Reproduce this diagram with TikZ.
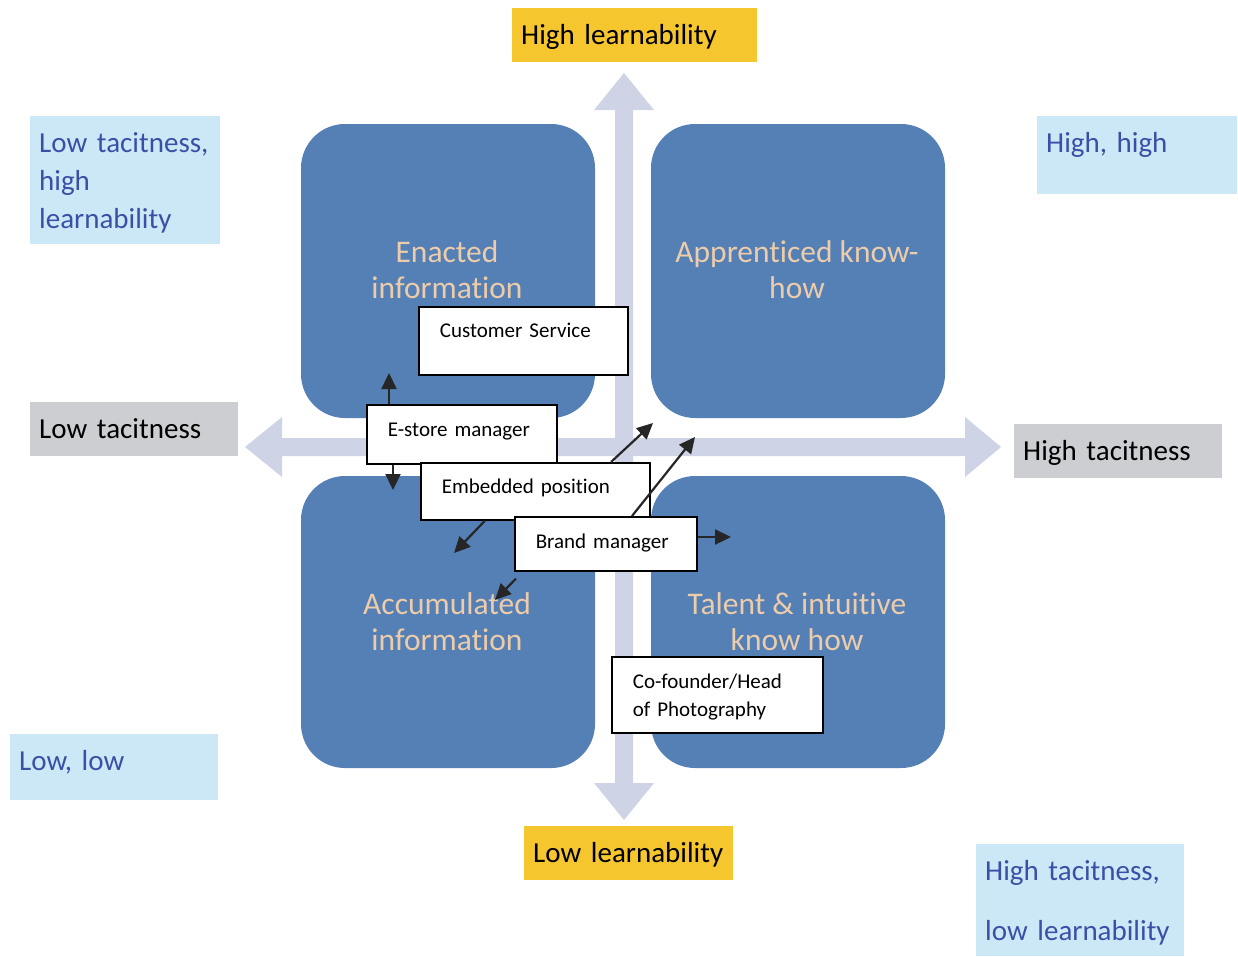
\documentclass[tikz,border=0pt]{standalone}
\usepackage{fontspec}
\setmainfont{Carlito}[Ligatures=NoCommon, Contextuals=NoAlternate]
\usetikzlibrary{arrows.meta}

\definecolor{quadblue}{RGB}{85,128,182}
\definecolor{axiscol}{RGB}{206,212,230}
\definecolor{peach}{RGB}{236,204,170}
\definecolor{tagyellow}{RGB}{245,198,46}
\definecolor{taggrey}{RGB}{204,206,209}
\definecolor{tagblue}{RGB}{204,232,247}
\definecolor{tagtext}{RGB}{58,80,166}

\begin{document}
\begin{tikzpicture}[x=1pt,y=-1pt,
  quad/.style={fill=quadblue, rounded corners=44pt},
  qtext/.style={text=peach, font=\fontsize{31.5}{36}\selectfont, align=center},
  tag/.style={anchor=north west, inner xsep=9pt, inner ysep=0pt, align=left,
    text width=190pt, font=\fontsize{29}{38}\selectfont},
  ytag/.style={tag, fill=tagyellow, text=black},
  gtag/.style={tag, fill=taggrey, text=black},
  btag/.style={tag, fill=tagblue, text=tagtext},
  role/.style={draw=black, line width=1.6pt, fill=white, anchor=north west,
    inner xsep=21pt, inner ysep=0pt, align=left, font=\fontsize{21}{28}\selectfont},
  ptr/.style={-{Triangle[length=16pt,width=15pt]}, line width=2.2pt, black!85}
]
\useasboundingbox (0,0) rectangle (1238,956);

% four quadrants
\fill[quad] (301,124) rectangle (595,418);
\fill[quad] (651,124) rectangle (945,418);
\fill[quad] (301,476) rectangle (595,768);
\fill[quad] (651,476) rectangle (945,768);

% axes
\fill[axiscol] (615,110) -- (594,110) -- (624,73) -- (654,110) -- (633,110)
  -- (633,783) -- (654,783) -- (624,820) -- (594,783) -- (615,783) -- cycle;
\fill[axiscol] (282,438) -- (282,417) -- (245,447) -- (282,477) -- (282,456)
  -- (965,456) -- (965,477) -- (1001,447) -- (965,417) -- (965,438) -- cycle;

% quadrant titles
\node[qtext] (q1) at (447,270) {Enacted\\information};
\node[qtext] (q2) at (797,270) {Apprenticed know-\\how};
\node[qtext] (q3) at (447,622) {Accumulated\\information};
\node[qtext] (q4) at (797,622) {Talent \& intuitive\\know how};

% axis labels
\node[ytag, text width=227pt, text height=36pt, text depth=18pt] (hl) at (512,8) {High learnability};
\node[ytag, text width=191pt, text height=36pt, text depth=18pt] (ll) at (524,826) {Low learnability};
\node[gtag, text width=190pt, text height=36pt, text depth=18pt] (lt) at (30,402) {Low tacitness};
\node[gtag, text width=190pt, text height=36pt, text depth=18pt] (ht) at (1014,424) {High tacitness};

% corner labels
\node[btag, text width=172pt, text height=36pt, text depth=92pt] (c1) at (30,116) {Low tacitness,\\high\\learnability};
\node[btag, text width=182pt, text height=36pt, text depth=42pt] (c2) at (1037,116) {High, high};
\node[btag, text width=190pt, text height=36pt, text depth=30pt] (c3) at (10,734) {Low, low};
\node[btag, text width=190pt, text height=36pt, text depth=76pt,
  font=\fontsize{29}{60}\selectfont] (c4) at (976,844) {High tacitness,\\low learnability};

% roles
\node[role, text width=148pt, text height=32pt, text depth=27pt] (estore) at (366,404) {E-store manager};
\node[role, text width=167pt, text height=31pt, text depth=37pt] (cserv) at (418,306) {Customer Service};
\node[role, text width=187pt, text height=31pt, text depth=26pt] (embed) at (420,462) {Embedded position};
\node[role, text width=140pt, text height=32pt, text depth=22pt] (brand) at (514,516) {Brand manager};
\node[role, text width=169pt, text height=32pt, text depth=44pt] (cofound) at (611,656) {Co-founder/Head\\of Photography};

% movements
\coordinate (t1) at (389,373);
\coordinate (t2) at (393,490);
\coordinate (t3) at (653,423);
\coordinate (t4) at (695,437);
\coordinate (t5) at (454,553);
\coordinate (t6) at (731,537);
\coordinate (t7) at (495,600);
\draw[ptr] (estore.north -| t1) -- (t1);
\draw[ptr] (estore.south -| t2) -- (t2);
\draw[ptr] ([xshift=191pt]embed.north west) -- (t3);
\draw[ptr] ([xshift=118pt]brand.north west) -- (t4);
\draw[ptr] ([xshift=65pt]embed.south west) -- (t5);
\draw[ptr] (brand.east |- t6) -- (t6);
\draw[ptr] ([shift={(2,7)}]brand.south west) -- (t7);
\end{tikzpicture}
\end{document}
